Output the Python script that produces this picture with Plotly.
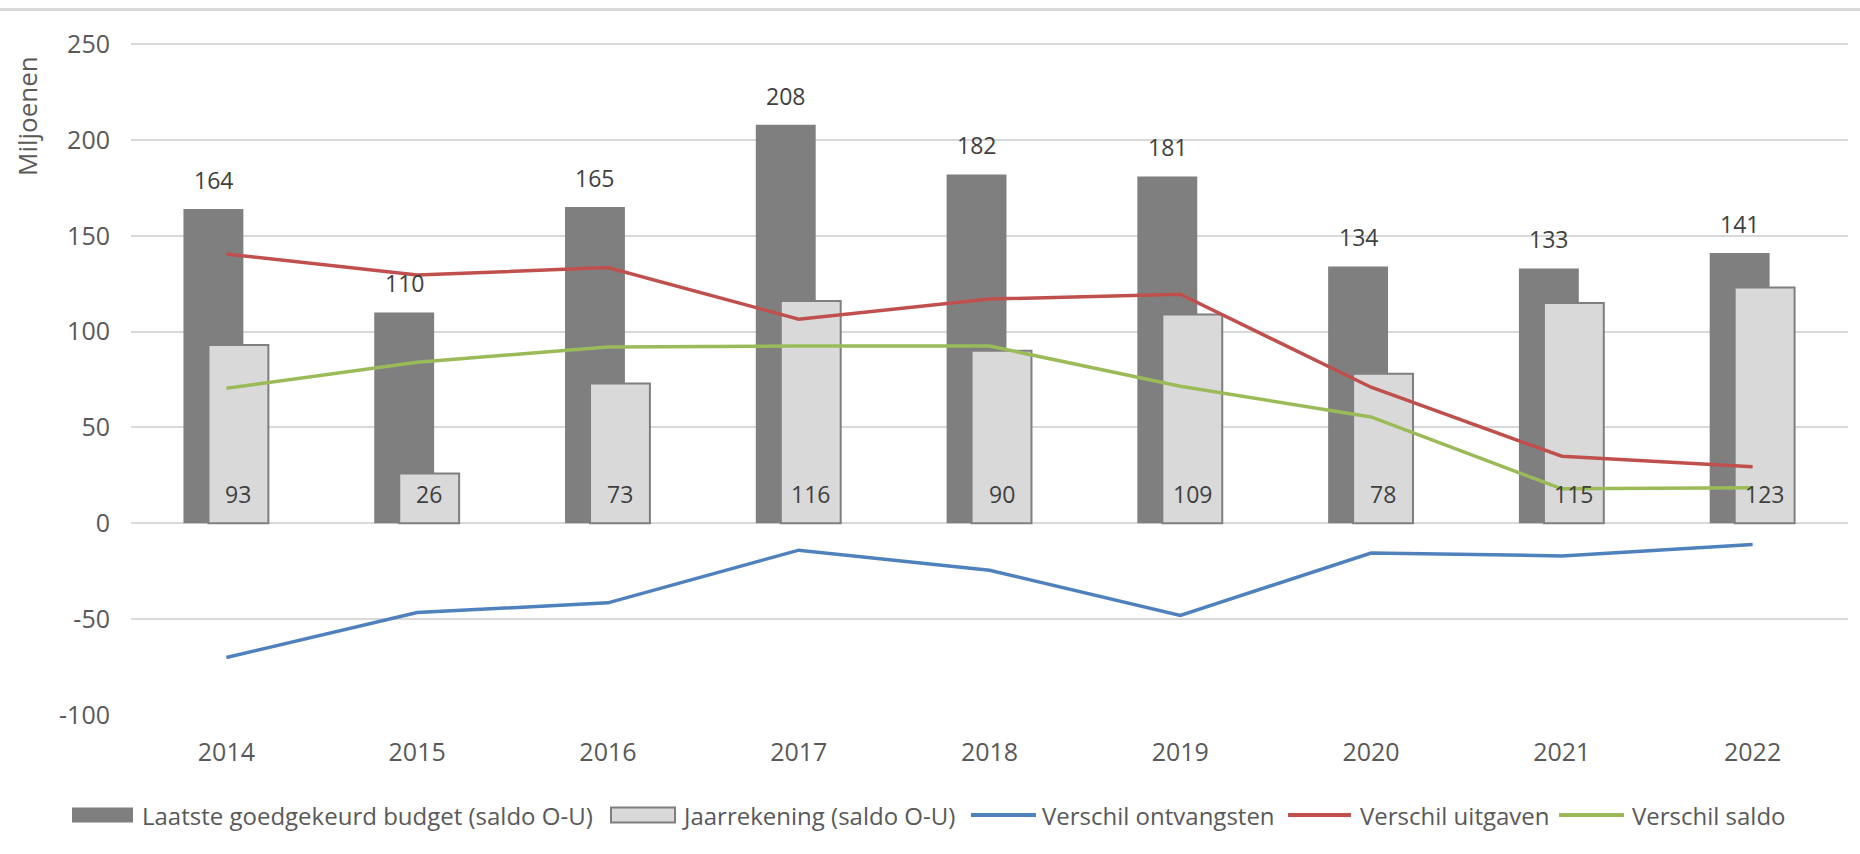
import plotly.graph_objects as go

years = ["2014", "2015", "2016", "2017", "2018", "2019", "2020", "2021", "2022"]
budget = [164, 110, 165, 208, 182, 181, 134, 133, 141]
jaarrekening = [93, 26, 73, 116, 90, 109, 78, 115, 123]
verschil_ontvangsten = [-70, -46.5, -41.5, -14, -24.5, -48, -15.5, -17, -11]
verschil_uitgaven = [140.5, 129.5, 133.5, 106.5, 117, 119.5, 71, 35, 29.5]
verschil_saldo = [70.5, 84, 92, 92.5, 92.5, 71.5, 55.5, 18, 18.5]
y_ticks = [-100, -50, 0, 50, 100, 150, 200, 250]

FONT = "Open Sans"
TXT = "#404040"
AX = "#595959"
GRID = "#d9d9d9"
DARK = "#7f7f7f"
LIGHT = "#d9d9d9"
BLUE, RED, GREEN = "#4F81BD", "#C0504D", "#9BBB59"

W, H = 1860, 854
ML, MR, MT, MB = 131, 12, 43, 139
PW, PH = W - ML - MR, H - MT - MB


def px(x):
    return (x - ML) / PW


def py(y):
    return (H - MB - y) / PH


fig = go.Figure()

fig.add_trace(go.Bar(
    x=years, y=budget, name="Laatste goedgekeurd budget (saldo O-U)",
    marker=dict(color=DARK, line=dict(width=0)),
    width=0.314, offset=-0.225, showlegend=False,
))
fig.add_trace(go.Bar(
    x=years, y=jaarrekening, name="Jaarrekening (saldo O-U)",
    marker=dict(color=LIGHT, line=dict(color=DARK, width=2)),
    width=0.314, offset=-0.094, showlegend=False,
))
fig.add_trace(go.Scatter(
    x=years, y=verschil_ontvangsten, name="Verschil ontvangsten", mode="lines",
    line=dict(color=BLUE, width=3.5), showlegend=False,
))
fig.add_trace(go.Scatter(
    x=years, y=verschil_uitgaven, name="Verschil uitgaven", mode="lines",
    line=dict(color=RED, width=3.5), showlegend=False,
))
fig.add_trace(go.Scatter(
    x=years, y=verschil_saldo, name="Verschil saldo", mode="lines",
    line=dict(color=GREEN, width=3.5), showlegend=False,
))

annotations = []
for i, v in enumerate(budget):
    annotations.append(dict(x=i, y=v, xref="x", yref="y", text=str(v), showarrow=False,
                            xshift=-13, yshift=29, yanchor="middle",
                            font=dict(family=FONT, size=23, color=TXT)))
for i, v in enumerate(jaarrekening):
    annotations.append(dict(x=i, y=0, xref="x", yref="y", text=str(v), showarrow=False,
                            xshift=12, yshift=29, yanchor="middle",
                            font=dict(family=FONT, size=23, color=TXT)))
annotations.append(dict(x=px(27), y=py(116), xref="paper", yref="paper", text="Miljoenen",
                        showarrow=False, textangle=-90, xanchor="center", yanchor="middle",
                        font=dict(family=FONT, size=26, color=AX)))

# custom legend (Excel-style wide swatches)
LEG_Y = 815
legend_items = [
    ("rect", DARK, None, 72, 133, "Laatste goedgekeurd budget (saldo O-U)", 140),
    ("rect", LIGHT, DARK, 611, 675, "Jaarrekening (saldo O-U)", 680),
    ("line", BLUE, None, 971, 1036, "Verschil ontvangsten", 1040),
    ("line", RED, None, 1288, 1351, "Verschil uitgaven", 1358),
    ("line", GREEN, None, 1559, 1624, "Verschil saldo", 1630),
]
shapes = [dict(type="line", xref="paper", yref="paper", x0=px(0), x1=px(W),
               y0=py(9.5), y1=py(9.5), line=dict(color=GRID, width=3))]
for kind, col, border, x0, x1, label, tx in legend_items:
    if kind == "rect":
        shapes.append(dict(type="rect", xref="paper", yref="paper",
                           x0=px(x0), x1=px(x1), y0=py(LEG_Y - 7.5), y1=py(LEG_Y + 7.5),
                           fillcolor=col,
                           line=dict(color=border if border else col, width=2 if border else 0)))
    else:
        shapes.append(dict(type="line", xref="paper", yref="paper",
                           x0=px(x0), x1=px(x1), y0=py(LEG_Y), y1=py(LEG_Y),
                           line=dict(color=col, width=4)))
    annotations.append(dict(x=px(tx), y=py(LEG_Y), xref="paper", yref="paper", text=label,
                            showarrow=False, xanchor="left", yanchor="middle",
                            font=dict(family=FONT, size=24, color=AX)))

fig.update_layout(
    width=W, height=H,
    margin=dict(l=ML, r=MR, t=MT, b=MB),
    paper_bgcolor="white", plot_bgcolor="white",
    barmode="overlay",
    font=dict(family=FONT, color=AX),
    showlegend=False,
    annotations=annotations,
    shapes=shapes,
)
fig.update_xaxes(type="category", range=[-0.5, len(years) - 0.5], autorange=False,
                 showgrid=False, showline=False, zeroline=False,
                 ticks="", tickfont=dict(family=FONT, size=25, color=AX),
                 ticklabelstandoff=20)
fig.update_yaxes(range=[-100, 250.6], autorange=False, tickmode="array", tickvals=y_ticks,
                 ticktext=[str(t) for t in y_ticks],
                 showgrid=True, gridcolor=GRID, gridwidth=2,
                 zeroline=True, zerolinecolor=GRID, zerolinewidth=2, showline=False,
                 ticks="", tickfont=dict(family=FONT, size=25, color=AX),
                 ticklabelstandoff=20)

fig.write_html("out.html", config={"displayModeBar": False},
               post_script="document.body.style.margin='0';")
